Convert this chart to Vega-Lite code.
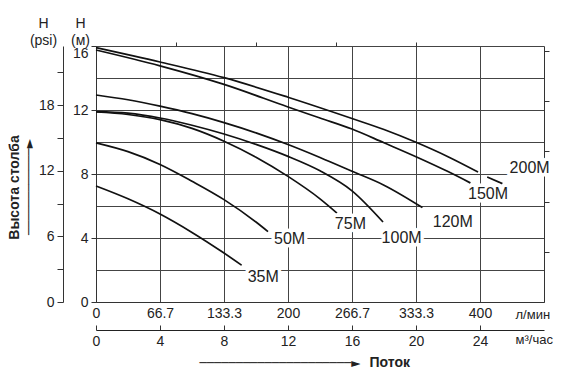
{
"$schema":"https://vega.github.io/schema/vega-lite/v6.json",
"width":448,"height":256,
"autosize":{"type":"none"},
"padding":{"left":96,"top":46,"right":23,"bottom":71},
"background":"#ffffff",
"config":{
 "view":{"stroke":null},
 "font":"Liberation Sans",
 "axis":{"labelFont":"Liberation Sans","labelFontSize":14,"labelColor":"#222222","titleFont":"Liberation Sans","titleFontSize":14,"titleFontWeight":"normal","titleColor":"#222222","domainColor":"#333333","tickColor":"#333333","gridColor":"#444444","gridOpacity":1,"domainWidth":1,"tickWidth":1,"gridWidth":1,"labelFlush":false,"labelOverlap":false}
},
"datasets":{
 "curves":[
  {"pump":"200M","q":0,"h":15.9},{"pump":"200M","q":4,"h":15.0},{"pump":"200M","q":8,"h":14.02},{"pump":"200M","q":12,"h":12.8},{"pump":"200M","q":16,"h":11.47},{"pump":"200M","q":18,"h":10.78},{"pump":"200M","q":20,"h":9.98},{"pump":"200M","q":22,"h":9.08},{"pump":"200M","q":23.88,"h":8.12},{"pump":"200M","q":24.15,"h":null},{"pump":"200M","q":24.45,"h":7.81},{"pump":"200M","q":25.4,"h":7.4},
  {"pump":"150M","q":0,"h":15.75},{"pump":"150M","q":4,"h":14.76},{"pump":"150M","q":8,"h":13.6},{"pump":"150M","q":12,"h":12.19},{"pump":"150M","q":14,"h":11.5},{"pump":"150M","q":16,"h":10.81},{"pump":"150M","q":18,"h":9.95},{"pump":"150M","q":20,"h":9.08},{"pump":"150M","q":22,"h":8.15},{"pump":"150M","q":23.4,"h":7.44},
  {"pump":"120M","q":0,"h":12.94},{"pump":"120M","q":2,"h":12.64},{"pump":"120M","q":4,"h":12.24},{"pump":"120M","q":6,"h":11.77},{"pump":"120M","q":8,"h":11.21},{"pump":"120M","q":10,"h":10.57},{"pump":"120M","q":12,"h":9.84},{"pump":"120M","q":14,"h":9.03},{"pump":"120M","q":16,"h":8.17},{"pump":"120M","q":18,"h":7.3},{"pump":"120M","q":20.4,"h":5.9},
  {"pump":"100M","q":0,"h":11.9},{"pump":"100M","q":2,"h":11.8},{"pump":"100M","q":4,"h":11.5},{"pump":"100M","q":6,"h":11.05},{"pump":"100M","q":8,"h":10.5},{"pump":"100M","q":10,"h":9.85},{"pump":"100M","q":12,"h":9.1},{"pump":"100M","q":14,"h":8.2},{"pump":"100M","q":16,"h":6.95},{"pump":"100M","q":17.94,"h":5.0},
  {"pump":"75M","q":0,"h":11.875},{"pump":"75M","q":2,"h":11.72},{"pump":"75M","q":4,"h":11.4},{"pump":"75M","q":6,"h":10.85},{"pump":"75M","q":8,"h":10.05},{"pump":"75M","q":10,"h":9.05},{"pump":"75M","q":12,"h":7.85},{"pump":"75M","q":14,"h":6.45},{"pump":"75M","q":15.06,"h":5.56},
  {"pump":"50M","q":0,"h":9.95},{"pump":"50M","q":2,"h":9.4},{"pump":"50M","q":4,"h":8.6},{"pump":"50M","q":6,"h":7.55},{"pump":"50M","q":8,"h":6.4},{"pump":"50M","q":10,"h":5.0},{"pump":"50M","q":10.75,"h":4.4},
  {"pump":"35M","q":0,"h":7.25},{"pump":"35M","q":2,"h":6.45},{"pump":"35M","q":4,"h":5.5},{"pump":"35M","q":6,"h":4.35},{"pump":"35M","q":8,"h":3.06},{"pump":"35M","q":9.1,"h":2.3}
 ],
 "labels":[
  {"label":"35M","q":10.45,"h":1.56},{"label":"50M","q":12.1,"h":3.94},{"label":"75M","q":15.9,"h":4.875},{"label":"100M","q":19.1,"h":4.0},{"label":"120M","q":22.3,"h":5.0},{"label":"150M","q":24.5,"h":6.75},{"label":"200M","q":27.1,"h":8.375}
 ],
 "frame":[{"q":0,"v":0}]
},
"layer":[
 {"data":{"name":"curves"},
  "mark":{"type":"line","color":"#111111","strokeWidth":1.7,"interpolate":"monotone"},
  "encoding":{
   "x":{"field":"q","type":"quantitative","scale":{"domain":[0,28],"nice":false,"zero":false},
        "axis":{"orient":"bottom","values":[0,4,8,12,16,20,24],"labelExpr":"format(datum.value*50/3,'.1~f')","grid":true,"ticks":false,"labelPadding":4,"domain":true,"title":"л/мин","titleAngle":0,"titleX":419,"titleY":16,"titleAlign":"left","titleBaseline":"alphabetic","titleFontSize":13}},
   "y":{"field":"h","type":"quantitative","scale":{"domain":[0,16],"nice":false,"zero":false},
        "axis":{"orient":"left","values":[0,2,4,6,8,10,12,14,16],"labelExpr":"datum.value % 4 === 0 ? datum.label : ''","grid":true,"tickSize":5,"tickOpacity":{"condition":{"test":"datum.value % 4 === 0","value":1},"value":0},"labelPadding":3,"labelBaseline":{"condition":{"test":"datum.value === 16","value":"top"},"value":"middle"},"title":["H","(м)"],"titleAngle":0,"titleX":-16,"titleY":-19,"titleAlign":"center","titleBaseline":"alphabetic","titleLineHeight":17}},
   "detail":{"field":"pump"}
  }},
 {"data":{"name":"labels"},
  "mark":{"type":"text","font":"Liberation Sans","fontSize":16,"color":"#ffffff","stroke":"#ffffff","strokeWidth":7,"strokeJoin":"round","align":"center","baseline":"middle"},
  "encoding":{
   "x":{"field":"q","type":"quantitative","scale":{"domain":[0,28],"nice":false,"zero":false},"axis":null},
   "y":{"field":"h","type":"quantitative","scale":{"domain":[0,16],"nice":false,"zero":false},"axis":null},
   "text":{"field":"label"}}},
 {"data":{"name":"labels"},
  "mark":{"type":"text","font":"Liberation Sans","fontSize":16,"color":"#222222","align":"center","baseline":"middle"},
  "encoding":{
   "x":{"field":"q","type":"quantitative","scale":{"domain":[0,28],"nice":false,"zero":false},"axis":null},
   "y":{"field":"h","type":"quantitative","scale":{"domain":[0,16],"nice":false,"zero":false},"axis":null},
   "text":{"field":"label"}}},
 {"data":{"name":"frame"},"mark":{"type":"point","opacity":0},
  "encoding":{
   "x":{"field":"q","type":"quantitative","scale":{"domain":[0,28],"nice":false,"zero":false},"axis":{"orient":"bottom","offset":28,"values":[0,4,8,12,16,20,24],"grid":false,"domain":false,"ticks":false,"labelPadding":4,"title":"м³/час","titleAngle":0,"titleX":419,"titleY":13,"titleAlign":"left","titleBaseline":"alphabetic","titleFontSize":13}},
   "y":{"field":"v","type":"quantitative","scale":{"domain":[0,23.4],"nice":false,"zero":false},"axis":{"orient":"left","offset":33,"values":[0,3,6,9,12,15,18,21],"labelExpr":"datum.value % 6 === 0 ? datum.label : ''","grid":false,"tickSize":6,"labelPadding":3,"title":["H","(psi)"],"titleAngle":0,"titleX":-20,"titleY":-19,"titleAlign":"center","titleBaseline":"alphabetic","titleLineHeight":17}}
  }},
 {"data":{"name":"frame"},"mark":{"type":"point","opacity":0},
  "encoding":{
   "x":{"field":"q","type":"quantitative","scale":{"domain":[0,28],"nice":false,"zero":false},"axis":{"orient":"top","values":[5,10,15,20],"labels":false,"domain":false,"grid":false,"tickSize":4,"title":"Поток","titleAngle":0,"titleFontWeight":"bold","titleX":273,"titleY":316,"titleAlign":"left","titleBaseline":"middle"}},
   "y":{"field":"v","type":"quantitative","scale":{"domain":[0,16],"nice":false,"zero":false},"axis":{"orient":"right","values":[3.14,6.28,9.42,12.56,15.7],"labels":false,"domain":true,"grid":false,"tickSize":5,"title":"Высота столба","titleFontWeight":"bold","titleAngle":270,"titleX":-530,"titleY":141,"titleAlign":"center","titleBaseline":"middle"}}
  }},
 {"data":{"name":"frame"},"mark":{"type":"point","opacity":0},
  "encoding":{
   "x":{"field":"q","type":"quantitative","scale":{"domain":[0,28],"nice":false,"zero":false},"axis":{"orient":"top","offset":-284,"values":[0,4,8,12,16,20,24],"labels":false,"ticks":true,"tickSize":5,"domain":true,"domainColor":"#222222","grid":false,"title":"─────────────────────►","titleAngle":0,"titleFont":"DejaVu Sans","titleFontSize":12,"titleX":183.5,"titleY":32,"titleAlign":"center","titleBaseline":"middle"}},
   "y":{"field":"v","type":"quantitative","scale":{"domain":[0,16],"nice":false,"zero":false},"axis":{"orient":"left","labels":false,"ticks":false,"domain":false,"grid":false,"title":"────────────►","titleFont":"DejaVu Sans","titleFontSize":12,"titleAngle":270,"titleX":-68,"titleY":140.5,"titleAlign":"center","titleBaseline":"middle"}}
  }}
],
"resolve":{"scale":{"x":"independent","y":"independent"},"axis":{"x":"independent","y":"independent"}}
}
